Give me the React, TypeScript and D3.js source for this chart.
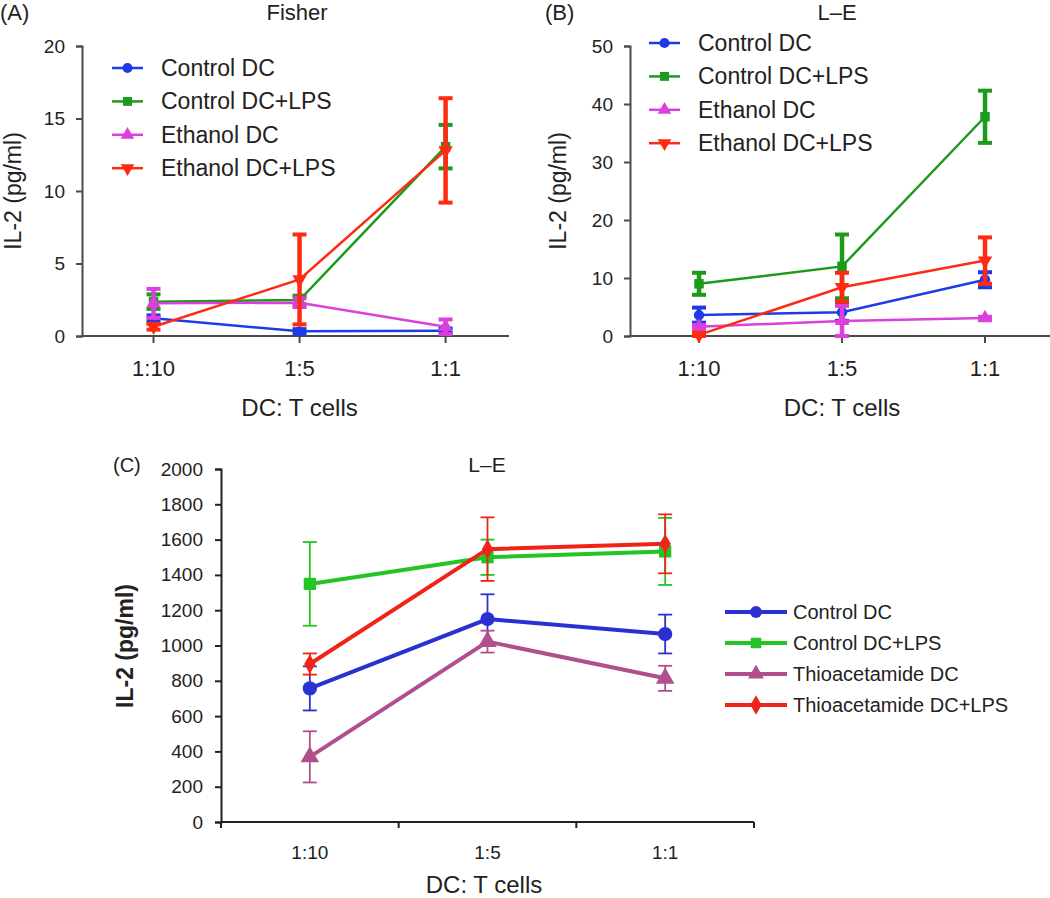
import React, { useEffect, useRef } from "react";
import * as d3 from "d3";

// DC : T cell ratios
const categories = ["1:10", "1:5", "1:1"];

// (A) Fisher, IL-2 pg/ml (mean and error)
const fisherControlDC = [1.22, 0.32, 0.37];
const fisherControlDCErr = [0.2, 0.15, 0.15];
const fisherControlLPS = [2.37, 2.48, 13.06];
const fisherControlLPSErr = [0.5, 0.3, 1.5];
const fisherEthanolDC = [2.25, 2.3, 0.64];
const fisherEthanolDCErr = [1.0, 0.3, 0.5];
const fisherEthanolLPS = [0.64, 3.9, 12.8];
const fisherEthanolLPSErr = [0.2, 3.1, 3.6];

// (B) L-E
const leControlDC = [3.6, 4.1, 9.7];
const leControlDCErr = [1.3, 1.5, 1.3];
const leControlLPS = [9.0, 12.0, 37.8];
const leControlLPSErr = [1.9, 5.5, 4.5];
const leEthanolDC = [1.6, 2.6, 3.1];
const leEthanolDCErr = [0.3, 2.6, 0.2];
const leEthanolLPS = [0.2, 8.4, 13.0];
const leEthanolLPSErr = [0.3, 2.5, 4.0];

// (C) L-E, thioacetamide
const thioControlDC = [757, 1150, 1065];
const thioControlDCErr = [125, 140, 110];
const thioControlLPS = [1349, 1500, 1533];
const thioControlLPSErr = [237, 100, 190];
const thioDC = [369, 1022, 814];
const thioDCErr = [145, 62, 71];
const thioLPS = [895, 1546, 1576];
const thioLPSErr = [60, 180, 167];

const ethanolNames = ["Control DC", "Control DC+LPS", "Ethanol DC", "Ethanol DC+LPS"];
const thioNames = ["Control DC", "Control DC+LPS", "Thioacetamide DC", "Thioacetamide DC+LPS"];

const FONT = "'Liberation Sans', Arial, Helvetica, sans-serif";

const colorsAB = ["#1f3be6", "#1c9a1c", "#dc40dc", "#ff2a12"];
const colorsC = ["#2a30d2", "#24c424", "#b04f8b", "#ee2418"];

type Shape = "circle" | "square" | "triangle" | "triangleDown" | "diamond";
const shapesAB: Shape[] = ["circle", "square", "triangle", "triangleDown"];
const shapesC: Shape[] = ["circle", "square", "triangle", "diamond"];

const symbolPath = (shape: Shape, size: number) => {
  const type =
    shape === "circle"
      ? d3.symbolCircle
      : shape === "square"
      ? d3.symbolSquare
      : shape === "diamond"
      ? d3.symbolDiamond
      : d3.symbolTriangle;
  return d3.symbol().type(type).size(size)() as string;
};

const App = () => {
  const ref = useRef<SVGSVGElement>(null);

  useEffect(() => {
    const svg = d3.select(ref.current);
    svg.selectAll("*").remove();

    const legend = (
      g: any,
      names: string[],
      colors: string[],
      shapes: Shape[],
      lx: number,
      ly: number,
      gap: number,
      len: number,
      textGap: number,
      fs: number,
      sw: number,
      msize: number
    ) => {
      names.forEach((n, i) => {
        const yy = ly + i * gap;
        g.append("line")
          .attr("x1", lx)
          .attr("x2", lx + len)
          .attr("y1", yy)
          .attr("y2", yy)
          .attr("stroke", colors[i])
          .attr("stroke-width", sw);
        g.append("path")
          .attr("d", symbolPath(shapes[i], msize))
          .attr("transform", `translate(${lx + len / 2},${yy})${shapes[i] === "triangleDown" ? " rotate(180)" : ""}`)
          .attr("fill", colors[i]);
        g.append("text")
          .attr("x", lx + len + textGap)
          .attr("y", yy)
          .attr("dominant-baseline", "central")
          .attr("font-family", FONT)
          .attr("font-size", fs)
          .attr("fill", "#222")
          .text(n);
      });
    };

    // ---------- Panels A and B ----------
    const drawSmall = (opts: any) => {
      const g = svg.append("g");
      const x = d3
        .scalePoint()
        .domain(categories)
        .range([opts.left, opts.right])
        .padding(opts.pad)
        .align(opts.align);
      const y = d3.scaleLinear().domain([0, opts.max]).range([336, 46]);
      const axisColor = "#4a4a4a";

      // y axis
      const ya = g
        .append("g")
        .attr("transform", `translate(${opts.left},0)`)
        .call(d3.axisLeft(y).tickValues(d3.range(0, opts.max + 1, opts.step)).tickSize(6).tickPadding(11));
      ya.select(".domain").attr("stroke", axisColor).attr("stroke-width", 2);
      ya.selectAll(".tick line").attr("stroke", axisColor).attr("stroke-width", 2);
      ya.selectAll(".tick text")
        .attr("font-family", FONT)
        .attr("font-size", 19)
        .attr("fill", "#222");

      // x axis
      g.append("line")
        .attr("x1", opts.left)
        .attr("x2", opts.right)
        .attr("y1", y(0))
        .attr("y2", y(0))
        .attr("stroke", axisColor)
        .attr("stroke-width", 2);
      categories.forEach((c) => {
        g.append("line")
          .attr("x1", x(c)!)
          .attr("x2", x(c)!)
          .attr("y1", y(0))
          .attr("y2", y(0) + 7)
          .attr("stroke", axisColor)
          .attr("stroke-width", 2);
        g.append("text")
          .attr("x", x(c)!)
          .attr("y", 368)
          .attr("text-anchor", "middle")
          .attr("dominant-baseline", "central")
          .attr("font-family", FONT)
          .attr("font-size", 22)
          .attr("fill", "#222")
          .text(c);
      });

      // titles
      g.append("text")
        .attr("x", x("1:5")!)
        .attr("y", 407)
        .attr("text-anchor", "middle")
        .attr("dominant-baseline", "central")
        .attr("font-family", FONT)
        .attr("font-size", 24)
        .attr("fill", "#222")
        .text("DC: T cells");
      g.append("text")
        .attr("transform", `translate(${opts.yTitleX},191) rotate(-90)`)
        .attr("text-anchor", "middle")
        .attr("dominant-baseline", "central")
        .attr("font-family", FONT)
        .attr("font-size", 23)
        .attr("fill", "#222")
        .text("IL-2 (pg/ml)");
      g.append("text")
        .attr("x", opts.titleX)
        .attr("y", 12)
        .attr("text-anchor", "middle")
        .attr("dominant-baseline", "central")
        .attr("font-family", FONT)
        .attr("font-size", 22)
        .attr("fill", "#222")
        .text(opts.title);
      g.append("text")
        .attr("x", opts.tagX)
        .attr("y", 12)
        .attr("dominant-baseline", "central")
        .attr("font-family", FONT)
        .attr("font-size", 22)
        .attr("fill", "#222")
        .text(opts.tag);

      // series
      opts.series.forEach((s: any, i: number) => {
        const col = colorsAB[i];
        const pts = categories.map((c, k) => ({ c, v: s.values[k], e: s.err[k] }));
        g.append("path")
          .datum(pts)
          .attr("fill", "none")
          .attr("stroke", col)
          .attr("stroke-width", 2.5)
          .attr(
            "d",
            d3
              .line<any>()
              .x((d) => x(d.c)!)
              .y((d) => y(d.v))
          );
        pts.forEach((d) => {
          const cx = x(d.c)!;
          const top = y(d.v + d.e);
          const bot = y(Math.max(0, d.v - d.e));
          g.append("line").attr("x1", cx).attr("x2", cx).attr("y1", top).attr("y2", bot).attr("stroke", col).attr("stroke-width", 4.5);
          [top, bot].forEach((yy) =>
            g.append("line").attr("x1", cx - 7).attr("x2", cx + 7).attr("y1", yy).attr("y2", yy).attr("stroke", col).attr("stroke-width", 4)
          );
          g.append("path")
            .attr("d", symbolPath(shapesAB[i], shapesAB[i] === "circle" ? 85 : 90))
            .attr("transform", `translate(${cx},${y(d.v)})${shapesAB[i] === "triangleDown" ? " rotate(180)" : ""}`)
            .attr("fill", col);
        });
      });

      legend(g, opts.names, colorsAB, shapesAB, opts.legX, opts.legY, 33.4, 31, 18, 23, 2.5, 80);
    };

    drawSmall({
      left: 82,
      right: 509,
      pad: 0.462,
      align: 0.53,
      max: 20,
      step: 5,
      title: "Fisher",
      titleX: 297,
      tag: "(A)",
      tagX: 0,
      yTitleX: 13,
      legX: 112,
      legY: 68,
      names: ethanolNames,
      series: [
        { values: fisherControlDC, err: fisherControlDCErr },
        { values: fisherControlLPS, err: fisherControlLPSErr },
        { values: fisherEthanolDC, err: fisherEthanolDCErr },
        { values: fisherEthanolLPS, err: fisherEthanolLPSErr },
      ],
    });

    drawSmall({
      left: 630,
      right: 1050,
      pad: 0.4685,
      align: 0.515,
      max: 50,
      step: 10,
      title: "L\u2013E",
      titleX: 837,
      tag: "(B)",
      tagX: 545,
      yTitleX: 558,
      legX: 649,
      legY: 43,
      names: ethanolNames,
      series: [
        { values: leControlDC, err: leControlDCErr },
        { values: leControlLPS, err: leControlLPSErr },
        { values: leEthanolDC, err: leEthanolDCErr },
        { values: leEthanolLPS, err: leEthanolLPSErr },
      ],
    });

    // ---------- Panel C ----------
    const gc = svg.append("g");
    const xb = d3.scaleBand().domain(categories).range([221, 754]);
    const yc = d3.scaleLinear().domain([0, 2000]).range([822, 469]);
    const cAxis = "#222";

    const yca = gc
      .append("g")
      .attr("transform", "translate(221,0)")
      .call(
        d3
          .axisLeft(yc)
          .tickValues(d3.range(0, 2001, 200))
          .tickFormat(d3.format("d"))
          .tickSize(6)
          .tickPadding(12)
      );
    yca.select(".domain").attr("stroke", cAxis).attr("stroke-width", 2);
    yca.selectAll(".tick line").attr("stroke", cAxis).attr("stroke-width", 2);
    yca.selectAll(".tick text").attr("font-family", FONT).attr("font-size", 19).attr("fill", "#222");

    gc.append("line").attr("x1", 221).attr("x2", 754).attr("y1", yc(0)).attr("y2", yc(0)).attr("stroke", cAxis).attr("stroke-width", 2);
    [...categories.map((c) => xb(c)!), 754].forEach((tx) =>
      gc.append("line").attr("x1", tx).attr("x2", tx).attr("y1", yc(0)).attr("y2", yc(0) + 6).attr("stroke", cAxis).attr("stroke-width", 2)
    );
    const cx = (c: string) => xb(c)! + xb.bandwidth() / 2;
    categories.forEach((c) =>
      gc.append("text")
        .attr("x", cx(c))
        .attr("y", 852)
        .attr("text-anchor", "middle")
        .attr("dominant-baseline", "central")
        .attr("font-family", FONT)
        .attr("font-size", 19)
        .attr("fill", "#222")
        .text(c)
    );
    gc.append("text")
      .attr("x", 484)
      .attr("y", 884)
      .attr("text-anchor", "middle")
      .attr("dominant-baseline", "central")
      .attr("font-family", FONT)
      .attr("font-size", 24)
      .attr("fill", "#222")
      .text("DC: T cells");
    gc.append("text")
      .attr("transform", "translate(125,646) rotate(-90)")
      .attr("text-anchor", "middle")
      .attr("dominant-baseline", "central")
      .attr("font-family", FONT)
      .attr("font-size", 23)
      .attr("font-weight", "bold")
      .attr("fill", "#222")
      .text("IL-2 (pg/ml)");
    gc.append("text")
      .attr("x", 487)
      .attr("y", 464)
      .attr("text-anchor", "middle")
      .attr("dominant-baseline", "central")
      .attr("font-family", FONT)
      .attr("font-size", 21)
      .attr("fill", "#222")
      .text("L\u2013E");
    gc.append("text")
      .attr("x", 113)
      .attr("y", 465)
      .attr("dominant-baseline", "central")
      .attr("font-family", FONT)
      .attr("font-size", 20)
      .attr("fill", "#222")
      .text("(C)");

    const seriesC = [
      { values: thioControlDC, err: thioControlDCErr },
      { values: thioControlLPS, err: thioControlLPSErr },
      { values: thioDC, err: thioDCErr },
      { values: thioLPS, err: thioLPSErr },
    ];
    seriesC.forEach((s, i) => {
      const col = colorsC[i];
      const pts = categories.map((c, k) => ({ c, v: s.values[k], e: s.err[k] }));
      pts.forEach((d) => {
        const px = cx(d.c);
        const top = yc(d.v + d.e);
        const bot = yc(d.v - d.e);
        gc.append("line").attr("x1", px).attr("x2", px).attr("y1", top).attr("y2", bot).attr("stroke", col).attr("stroke-width", 1.8);
        [top, bot].forEach((yy) =>
          gc.append("line").attr("x1", px - 7).attr("x2", px + 7).attr("y1", yy).attr("y2", yy).attr("stroke", col).attr("stroke-width", 1.8)
        );
      });
      gc.append("path")
        .datum(pts)
        .attr("fill", "none")
        .attr("stroke", col)
        .attr("stroke-width", 4)
        .attr(
          "d",
          d3
            .line<any>()
            .x((d) => cx(d.c))
            .y((d) => yc(d.v))
        );
      pts.forEach((d) =>
        gc.append("path")
          .attr("d", symbolPath(shapesC[i], shapesC[i] === "circle" ? 160 : shapesC[i] === "diamond" ? 110 : 150))
          .attr("transform", `translate(${cx(d.c)},${yc(d.v)})`)
          .attr("fill", col)
      );
    });

    legend(gc, thioNames, colorsC, shapesC, 725, 612, 31, 62, 6, 20, 4, 110);
  }, []);

  return (
    <svg
      ref={ref}
      width={1050}
      height={898}
      style={{ position: "absolute", left: 0, top: 0, background: "#fff" }}
    />
  );
};

export default App;
